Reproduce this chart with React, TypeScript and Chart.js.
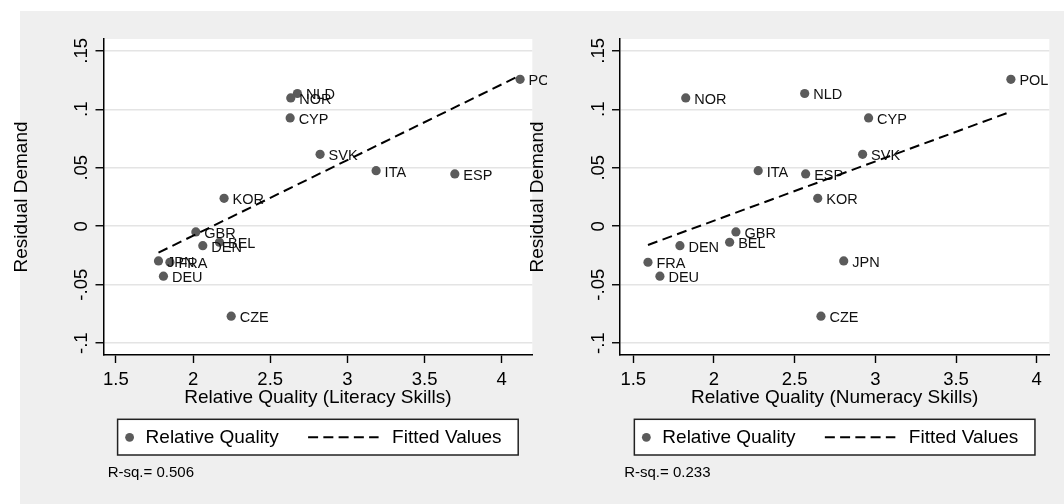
import React, { useEffect, useRef } from 'react';
import { Chart, registerables } from 'chart.js';

Chart.register(...registerables);

const FONT = "'Liberation Sans', Arial, Helvetica, sans-serif";

// Data
const countries = ['POL', 'NLD', 'NOR', 'CYP', 'SVK', 'ITA', 'ESP', 'KOR', 'GBR', 'BEL', 'DEN', 'JPN', 'FRA', 'DEU', 'CZE'];
const residualDemand = [0.1256, 0.1135, 0.1097, 0.0926, 0.0615, 0.0475, 0.0447, 0.0239, -0.0049, -0.0137, -0.0166, -0.0297, -0.0308, -0.0427, -0.0769];
const literacyQuality = [4.119, 2.676, 2.633, 2.629, 2.823, 3.186, 3.696, 2.201, 2.018, 2.171, 2.063, 1.776, 1.85, 1.808, 2.247];
const numeracyQuality = [3.84, 2.562, 1.825, 2.958, 2.921, 2.274, 2.568, 2.643, 2.136, 2.097, 1.789, 2.804, 1.591, 1.665, 2.663];
const literacyFitX = [1.776, 4.119];
const literacyFitY = [-0.0226, 0.129];
const numeracyFitX = [1.591, 3.84];
const numeracyFitY = [-0.016, 0.098];
const xTickValues = [1.5, 2, 2.5, 3, 3.5, 4];
const xTickLabels = ['1.5', '2', '2.5', '3', '3.5', '4'];
const yTickValues = [-0.1, -0.05, 0, 0.05, 0.1, 0.15];
const yTickLabels = ['-.1', '-.05', '0', '.05', '.1', '.15'];
const yTitle = 'Residual Demand';
const xTitles = ['Relative Quality (Literacy Skills)', 'Relative Quality (Numeracy Skills)'];
const legendLabels = ['Relative Quality', 'Fitted Values'];
const rSquared = ['R-sq.= 0.506', 'R-sq.= 0.233'];

const DOT = '#5b5b5b';

type PanelProps = {
  canvasLeft: number;
  canvasWidth: number;
  yWidth: number;
  padRight: number;
  yTitlePad: number;
  xMin: number;
  xMax: number;
  xValues: number[];
  fitX: number[];
  fitY: number[];
  xTitle: string;
  rsq: string;
};

function Panel(props: PanelProps) {
  const ref = useRef<HTMLCanvasElement | null>(null);
  useEffect(() => {
    const canvas = ref.current;
    if (!canvas) return;
    const p = props;
    const plugin = {
      id: 'stataPanel',
      beforeDraw(chart: any) {
        const { ctx, chartArea: a } = chart;
        ctx.save();
        ctx.fillStyle = '#ffffff';
        ctx.fillRect(a.left, a.top, a.right - a.left, a.bottom - a.top);
        ctx.restore();
      },
      afterDatasetDraw(chart: any, args: any) {
        if (args.index !== 1) return;
        const { ctx, chartArea: a } = chart;
        const meta = args.meta;
        ctx.save();
        ctx.beginPath();
        ctx.rect(a.left, a.top, chart.width - a.left, a.bottom - a.top);
        ctx.clip();
        ctx.font = `14.5px ${FONT}`;
        ctx.fillStyle = '#111111';
        ctx.textAlign = 'left';
        ctx.textBaseline = 'middle';
        meta.data.forEach((el: any, i: number) => {
          ctx.fillText(countries[i], el.x + 8.5, el.y + 2);
        });
        ctx.restore();
      },
      afterDraw(chart: any) {
        const { ctx, chartArea: a } = chart;
        const ys = chart.scales.y;
        ctx.save();
        // rotated y tick labels
        ctx.font = `18.5px ${FONT}`;
        ctx.fillStyle = '#000';
        ctx.textAlign = 'center';
        ctx.textBaseline = 'alphabetic';
        yTickValues.forEach((v, i) => {
          const py = ys.getPixelForValue(v);
          ctx.save();
          ctx.translate(a.left - 16.5, py);
          ctx.rotate(-Math.PI / 2);
          ctx.fillText(yTickLabels[i], 0, 0);
          ctx.restore();
        });
        // legend box
        const cx = (a.left + a.right) / 2;
        const bx = cx - 200.3;
        const by = 419.3;
        const bw = 400.6;
        const bh = 35.7;
        ctx.fillStyle = '#fff';
        ctx.fillRect(bx, by, bw, bh);
        ctx.strokeStyle = '#222';
        ctx.lineWidth = 1.5;
        ctx.strokeRect(bx, by, bw, bh);
        const my = 437.3;
        ctx.fillStyle = DOT;
        ctx.beginPath();
        ctx.arc(bx + 12, my, 4.4, 0, Math.PI * 2);
        ctx.fill();
        ctx.fillStyle = '#000';
        ctx.font = `19px ${FONT}`;
        ctx.textAlign = 'left';
        ctx.textBaseline = 'middle';
        ctx.fillText(legendLabels[0], bx + 28, my);
        ctx.fillText(legendLabels[1], bx + 274.5, my);
        ctx.strokeStyle = '#000';
        ctx.lineWidth = 2;
        ctx.setLineDash([10, 5.25]);
        ctx.beginPath();
        ctx.moveTo(bx + 190.5, my);
        ctx.lineTo(bx + 261, my);
        ctx.stroke();
        ctx.setLineDash([]);
        // R-squared note
        ctx.font = `15px ${FONT}`;
        ctx.fillStyle = '#000';
        ctx.fillText(p.rsq, a.left + 4.2, 473);
        ctx.restore();
      },
    };

    const chart = new Chart(canvas, {
      type: 'scatter',
      data: {
        datasets: [
          {
            label: legendLabels[1],
            data: p.fitX.map((x, i) => ({ x, y: p.fitY[i] })),
            showLine: true,
            borderColor: '#000',
            borderWidth: 2,
            borderDash: [10, 5.5],
            pointRadius: 0,
            fill: false,
          } as any,
          {
            label: legendLabels[0],
            data: p.xValues.map((x, i) => ({ x, y: residualDemand[i] })),
            pointRadius: 4.6,
            pointBackgroundColor: DOT,
            pointBorderWidth: 0,
            backgroundColor: DOT,
            borderColor: DOT,
          } as any,
        ],
      },
      options: {
        responsive: false,
        animation: false,
        devicePixelRatio: 1,
        layout: { padding: { left: 0, top: 39, right: p.padRight, bottom: 0 } },
        plugins: { legend: { display: false }, tooltip: { enabled: false } },
        scales: {
          x: {
            type: 'linear',
            min: p.xMin,
            max: p.xMax,
            afterBuildTicks: (s: any) => {
              s.ticks = xTickValues.map((v) => ({ value: v }));
            },
            afterFit: (s: any) => {
              s.height = 149;
            },
            ticks: {
              font: { size: 18.5, family: FONT },
              color: '#000',
              padding: 6,
              maxRotation: 0,
              autoSkip: false,
              callback: (_v: any, i: number) => xTickLabels[i],
            },
            grid: {
              drawOnChartArea: false,
              drawTicks: true,
              tickLength: 8,
              tickColor: '#000',
              tickWidth: 1.4,
            },
            border: { display: true, color: '#000', width: 1.5 },
            title: {
              display: true,
              text: p.xTitle,
              font: { size: 19, family: FONT },
              color: '#000',
              padding: { top: 0, bottom: 95 },
            },
          },
          y: {
            type: 'linear',
            min: -0.1101,
            max: 0.1601,
            afterBuildTicks: (s: any) => {
              s.ticks = yTickValues.map((v) => ({ value: v }));
            },
            afterFit: (s: any) => {
              s.width = p.yWidth;
            },
            ticks: { display: false },
            grid: {
              color: '#e4e4e4',
              lineWidth: 1.5,
              drawTicks: true,
              tickLength: 8,
              tickColor: '#000',
              tickWidth: 1.4,
            },
            border: { display: true, color: '#000', width: 1.5 },
            title: {
              display: true,
              text: yTitle,
              font: { size: 19, family: FONT },
              color: '#000',
              padding: { top: p.yTitlePad, bottom: 0 },
            },
          },
        },
      } as any,
      plugins: [plugin],
    });
    return () => chart.destroy();
  }, []);

  return (
    <canvas
      ref={ref}
      width={props.canvasWidth}
      height={504}
      style={{ position: 'absolute', left: props.canvasLeft, top: 0, width: props.canvasWidth, height: 504 }}
    />
  );
}

export default function App() {
  return (
    <div style={{ position: 'fixed', left: 0, top: 0, width: 1064, height: 504, background: '#ffffff', overflow: 'hidden' }}>
      <div style={{ position: 'absolute', left: 20, top: 11, right: 0, bottom: 0, background: '#efefef' }} />
      <Panel
        canvasLeft={0}
        canvasWidth={547}
        yWidth={103.5}
        padRight={14.7}
        yTitlePad={10}
        xMin={1.4197}
        xMax={4.198}
        xValues={literacyQuality}
        fitX={literacyFitX}
        fitY={literacyFitY}
        xTitle={xTitles[0]}
        rsq={rSquared[0]}
      />
      <Panel
        canvasLeft={520}
        canvasWidth={544}
        yWidth={100}
        padRight={14.7}
        yTitlePad={6.4}
        xMin={1.4176}
        xMax={4.078}
        xValues={numeracyQuality}
        fitX={numeracyFitX}
        fitY={numeracyFitY}
        xTitle={xTitles[1]}
        rsq={rSquared[1]}
      />
    </div>
  );
}
